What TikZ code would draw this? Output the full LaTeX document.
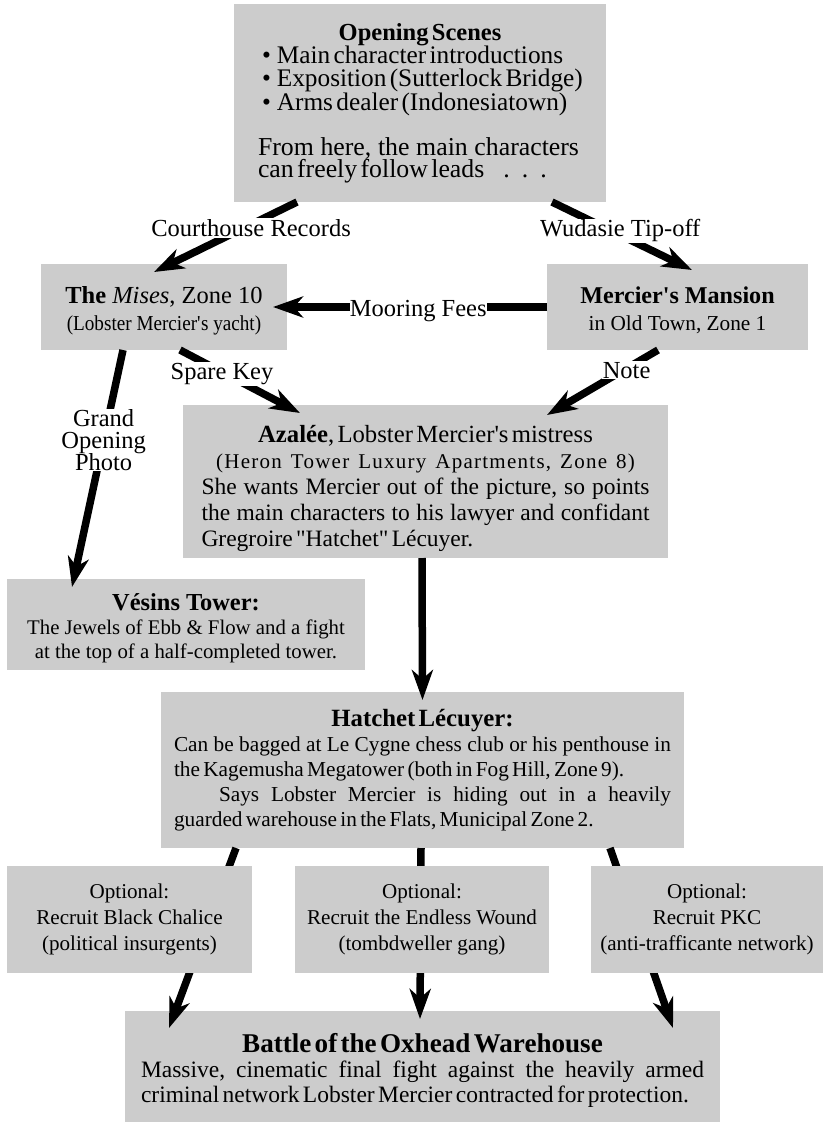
\documentclass[tikz,border=0pt]{standalone}
\usepackage{fontspec}
\setmainfont{Liberation Serif}
\newfontfamily\condfont[FakeStretch=0.9]{Liberation Serif}
\usetikzlibrary{arrows.meta}
\definecolor{boxgray}{gray}{0.8}
\setlength{\parindent}{0pt}
\setlength{\lineskiplimit}{-100pt}
\newcommand{\q}{\textquotesingle}
\newcommand{\fs}[2]{\fontsize{#1}{#2}\selectfont}
\newcommand{\jl}[2]{\hbox to #1{#2}}
\begin{document}
\begin{tikzpicture}[x=1pt,y=-1pt,
  box/.style={fill=boxgray, inner sep=0pt, outer sep=0pt},
  lbl/.style={fill=white, inner sep=1pt, font=\fs{24.5}{22}},
  arr/.style={line width=7.5pt, -{Stealth[length=30pt,width=21pt,inset=9pt]}}]
\useasboundingbox (0,0) rectangle (826,1126);

% boxes
\node[box, minimum width=372pt, minimum height=198pt, text width=324pt] (open) at (420,103) {%
  {\centering\bfseries\fs{24.5}{22.3}Opening Scenes\par}
  \fs{25.3}{22.3}\hbox{\hspace*{4pt}•\hspace{6pt}Main character introductions}
  \hbox{\hspace*{4pt}•\hspace{6pt}Exposition (Sutterlock Bridge)}
  \hbox{\hspace*{4pt}•\hspace{6pt}Arms dealer (Indonesiatown)}
  \vspace*{20.5pt}
  \fs{25.8}{22.3}\jl{321pt}{From\hfill here,\hfill the\hfill main\hfill characters}
  \hbox{can freely follow leads\hspace{19pt}.\hspace{12pt}.\hspace{12pt}.}};

\node[box, minimum width=246pt, minimum height=86pt, align=center, font=\fs{24.5}{27}] (mises) at (164,307) {%
  \rule{0pt}{24pt}{\bfseries The} \textit{Mises}, Zone 10\\
  {\condfont\fs{21.3}{21}(Lobster Mercier\q s yacht)}};

\node[box, minimum width=261pt, minimum height=86pt, align=center, font=\fs{21.3}{27}] (mercier) at (677.5,307) {%
  \rule{0pt}{24pt}{\bfseries\fs{24.1}{27}Mercier\q s Mansion}\\
  in Old Town, Zone 1};

\node[box, minimum width=485pt, minimum height=153pt, text width=448pt] (azalee) at (425.5,481.5) {%
  \par\vspace*{6pt}
  {\centering\fs{24.7}{26}{\bfseries Azalée}, Lobster Mercier\q s mistress\par}
  {\centering\fs{21}{26}\addfontfeature{LetterSpace=6}(Heron\hspace{9pt}Tower\hspace{9pt}Luxury\hspace{9pt}Apartments,\hspace{9pt}Zone\hspace{9pt}8)\par}
  \fs{23.5}{26}\jl{448pt}{She\hfill wants\hfill Mercier\hfill out\hfill of\hfill the\hfill picture,\hfill so\hfill points}
  \jl{448pt}{the\hfill main\hfill characters\hfill to\hfill his\hfill lawyer\hfill and\hfill confidant}
  \hbox{Gregroire \textquotedbl Hatchet\textquotedbl\ Lécuyer.}};

\node[box, minimum width=358pt, minimum height=91pt, align=center, font=\fs{20.8}{24}] (vesins) at (186,624.5) {%
  \rule{0pt}{24pt}{\bfseries\fs{24.4}{24}Vésins Tower:}\\
  The Jewels of Ebb \& Flow and a fight\\
  at the top of a half-completed tower.};

\node[box, minimum width=523pt, minimum height=156pt, text width=497pt] (hatchet) at (422.5,770) {%
  {\centering\bfseries\fs{24.8}{25}Hatchet Lécuyer:\par}
  \fs{21.3}{25}\jl{497pt}{Can\hfill be\hfill bagged\hfill at\hfill Le\hfill Cygne\hfill chess\hfill club\hfill or\hfill his\hfill penthouse\hfill in}
  \hbox{the Kagemusha Megatower (both in Fog Hill, Zone 9).}
  \jl{497pt}{\hspace*{45pt}Says\hfill Lobster\hfill Mercier\hfill is\hfill hiding\hfill out\hfill in\hfill a\hfill heavily}
  \hbox{guarded warehouse in the Flats, Municipal Zone 2.}};

\node[box, minimum width=595pt, minimum height=111pt, text width=563pt] (battle) at (422.5,1066.5) {%
  \par\vspace*{2pt}
  {\centering\bfseries\fs{27.1}{25}Battle of the Oxhead Warehouse\par}
  \fs{23.5}{25}\jl{563pt}{Massive,\hfill cinematic\hfill final\hfill fight\hfill against\hfill the\hfill heavily\hfill armed}
  \hbox{criminal network Lobster Mercier contracted for protection.}};

% connectors
\draw[arr] ([xshift=-123pt]open.south) -- node[lbl, pos=0.37, xshift=7pt] (lcourt) {Courthouse Records} ([xshift=-10pt,yshift=-8pt]mises.north);
\draw[arr] ([xshift=132pt]open.south) -- node[lbl, pos=0.38, xshift=15pt, yshift=-3pt] (lwud) {Wudasie Tip-off} ([xshift=14.5pt,yshift=-6pt]mercier.north);
\draw[arr] (mercier.west) -- node[lbl, pos=0.47, inner sep=0pt, yshift=-4pt] (lmoor) {Mooring Fees} ([xshift=-14pt]mises.east);
\draw[arr] ([xshift=16pt]mises.south) -- node[lbl, pos=0.35, yshift=-2pt] (lspare) {Spare Key} ([xshift=-125.5pt,yshift=-8pt]azalee.north);
\draw[arr] ([xshift=-19.5pt]mercier.south) -- node[lbl, pos=0.31, xshift=3pt] (lnote) {Note} ([xshift=121.5pt,yshift=-10pt]azalee.north);
\draw[arr] ([xshift=-41pt]mises.south) -- node[lbl, pos=0.38, align=center, inner sep=0pt] (lgrand) {Grand\\Opening\\Photo} ([xshift=-114pt,yshift=-8pt]vesins.north);
\draw[arr] ([xshift=-3.5pt]azalee.south) -- ([yshift=-8pt]hatchet.north);
\draw[arr] ([xshift=-186.5pt]hatchet.south) -- ([xshift=-253.5pt,yshift=-17pt]battle.north);
\draw[arr] ([xshift=-1.5pt]hatchet.south) -- ([xshift=-2.5pt,yshift=-8pt]battle.north);
\draw[arr] ([xshift=187.5pt]hatchet.south) -- ([xshift=250.5pt,yshift=-17pt]battle.north);

% optional boxes (over the connectors that pass behind them)
\node[box, minimum width=245pt, minimum height=107pt, align=center, font=\fs{21.1}{26}] (opt1) at (129.5,919.5) {Optional:\\Recruit Black Chalice\\(political insurgents)};
\node[box, minimum width=254pt, minimum height=107pt, align=center, font=\fs{21.1}{26}] (opt2) at (422,919.5) {Optional:\\Recruit the Endless Wound\\(tombdweller gang)};
\node[box, minimum width=232pt, minimum height=107pt, align=center, font=\fs{21.1}{26}] (opt3) at (707,919.5) {Optional:\\Recruit PKC\\(anti-trafficante network)};
\end{tikzpicture}
\end{document}
